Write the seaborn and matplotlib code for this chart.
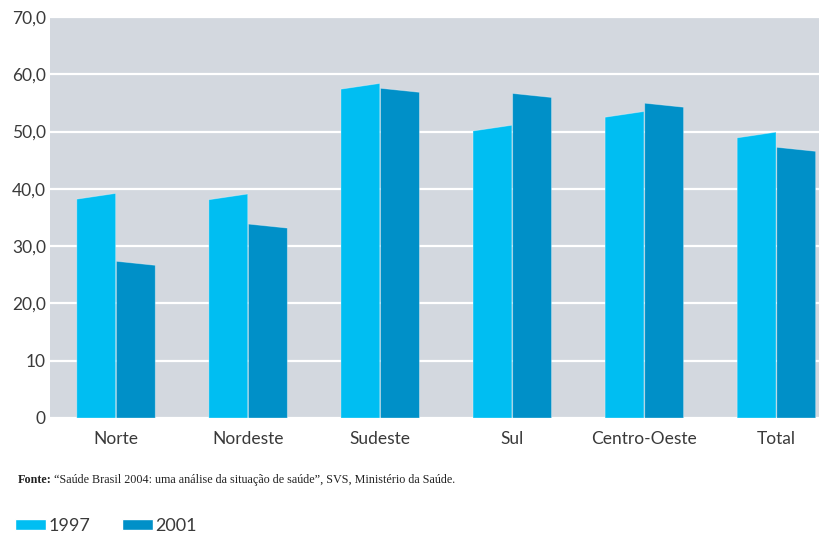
import numpy as np
import pandas as pd
import matplotlib
matplotlib.use("Agg")
import matplotlib.pyplot as plt
from matplotlib.patches import Polygon
import seaborn as sns

regioes = ["Norte", "Nordeste", "Sudeste", "Sul", "Centro-Oeste", "Total"]
valores_1997 = [38.7, 38.6, 57.9, 50.6, 53.0, 49.4]
valores_2001 = [27.0, 33.5, 57.2, 56.3, 54.6, 46.9]
anos = ["1997", "2001"]
ytick_vals = [0, 10, 20, 30, 40, 50, 60, 70]
ytick_labels = ["0", "10", "20,0", "30,0", "40,0", "50,0", "60,0", "70,0"]
fonte_rotulo = "Fonte:"
fonte_texto = "\u201cSaúde Brasil 2004: uma análise da situação de saúde\u201d, SVS, Ministério da Saúde."

cores = {"1997": "#00BEF2", "2001": "#0090C8"}
fundo = "#D3D8DF"
texto = "#3A3A3A"

df = pd.DataFrame({
    "Região": regioes * 2,
    "Ano": [anos[0]] * len(regioes) + [anos[1]] * len(regioes),
    "Valor": valores_1997 + valores_2001,
})

sns.set_theme(style="white")
plt.rcParams["font.family"] = ["Lato", "DejaVu Sans"]

fig = plt.figure(figsize=(8.2, 5.36), dpi=100)
ax = fig.add_axes([50 / 820, 1 - 418 / 536, 770 / 820, 401 / 536])
ax.set_facecolor(fundo)

sns.barplot(data=df, x="Região", y="Valor", hue="Ano", order=regioes,
            hue_order=anos, palette=cores, width=0.6, gap=0.02,
            saturation=1, ax=ax, legend=True)

# slanted bar tops: 1997 rises to the right, 2001 falls to the right
inclinacao = {0: 0.5, 1: -0.35}
for i, cont in enumerate(ax.containers):
    d = inclinacao[i]
    for bar in cont:
        x0 = bar.get_x()
        x1 = x0 + bar.get_width()
        h = bar.get_height()
        poly = Polygon([(x0, 0), (x1, 0), (x1, h + d), (x0, h - d)],
                       closed=True, facecolor=bar.get_facecolor(),
                       edgecolor=(1, 1, 1, 0.35), linewidth=0.6, zorder=3)
        bar.set_visible(False)
        ax.add_patch(poly)

ax.set_ylim(0, 70)
ax.set_xlim(-0.5, 5.33)
ax.set_yticks(ytick_vals)
ax.set_yticklabels(ytick_labels)
ax.yaxis.grid(True, color="white", linewidth=1.6, zorder=1)
ax.set_axisbelow(True)
for s in ax.spines.values():
    s.set_visible(False)
ax.tick_params(axis="both", length=0, labelsize=12.5, colors=texto)
ax.tick_params(axis="x", pad=9)
ax.tick_params(axis="y", pad=3)
ax.set_xlabel("")
ax.set_ylabel("")

sns.move_legend(ax, "center left", bbox_to_anchor=(15 / 820, 1 - 526 / 536),
                bbox_transform=fig.transFigure, ncol=2, frameon=False,
                title=None, fontsize=13, handlelength=1.7, handleheight=0.55,
                handletextpad=0.15, columnspacing=1.75, labelcolor=texto,
                borderaxespad=0, borderpad=0)

# source note: bold label followed by the citation
y_fonte = 1 - 480 / 536
t1 = fig.text(18 / 820, y_fonte, fonte_rotulo, fontsize=8.7, fontweight="bold",
              family=["Liberation Serif"], color="#222222", va="center")
fig.canvas.draw()
bb = t1.get_window_extent(renderer=fig.canvas.get_renderer())
fig.text((bb.x1 + 2) / fig.bbox.width, y_fonte, fonte_texto, fontsize=8.7,
         family=["Liberation Serif"], color="#222222", va="center")

fig.savefig("out.png", dpi=100)
